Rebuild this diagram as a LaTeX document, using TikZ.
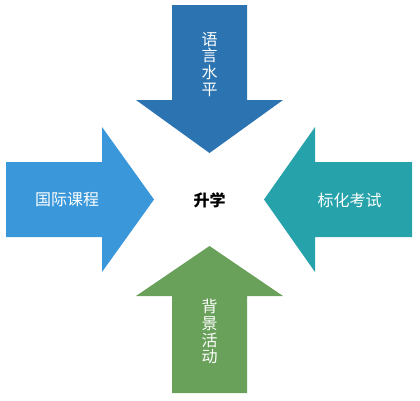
\documentclass[tikz,border=0pt]{standalone}
\usepackage{fontspec}
\newfontfamily\cjk{Noto Sans CJK SC}
\definecolor{langblue}{HTML}{2B74B1}
\definecolor{courseblue}{HTML}{3A97D9}
\definecolor{testteal}{HTML}{26A2AA}
\definecolor{actgreen}{HTML}{69A15B}
\tikzset{
    label text/.style = {text=white, font=\cjk\fontsize{16}{16.8}\selectfont, align=center, inner sep=0pt},
    goal text/.style = {text=black, font=\cjk\bfseries\fontsize{16}{16.8}\selectfont, inner sep=0pt}
}
\begin{document}
\begin{tikzpicture}[x=1pt, y=-1pt]
                \useasboundingbox (0,0) rectangle (420,400);

                % arrows pointing to the centre
                \fill [langblue]   (172,5) -- (247,5) -- (247,100) -- (283,100) -- (209.5,153) -- (136,100) -- (172,100) -- cycle;
                \fill [courseblue] (6,162) -- (102,162) -- (102,127) -- (154,199.5) -- (102,272) -- (102,237) -- (6,237) -- cycle;
                \fill [testteal]   (412,162) -- (315,162) -- (315,127) -- (264,199.5) -- (315,272) -- (315,237) -- (412,237) -- cycle;
                \fill [actgreen]   (172,393) -- (247,393) -- (247,296) -- (283,296) -- (209.5,246) -- (136,296) -- (172,296) -- cycle;

                \node (goal) [goal text] at (209.5,200) {升学};
                \node (lang) [label text] at (209.5,64.5) {语\\言\\水\\平};
                \node (course) [label text] at (67,200) {国际课程};
                \node (test) [label text] at (349.5,200) {标化考试};
                \node (act) [label text] at (209.5,331.5) {背\\景\\活\\动};
            \end{tikzpicture}
\end{document}
